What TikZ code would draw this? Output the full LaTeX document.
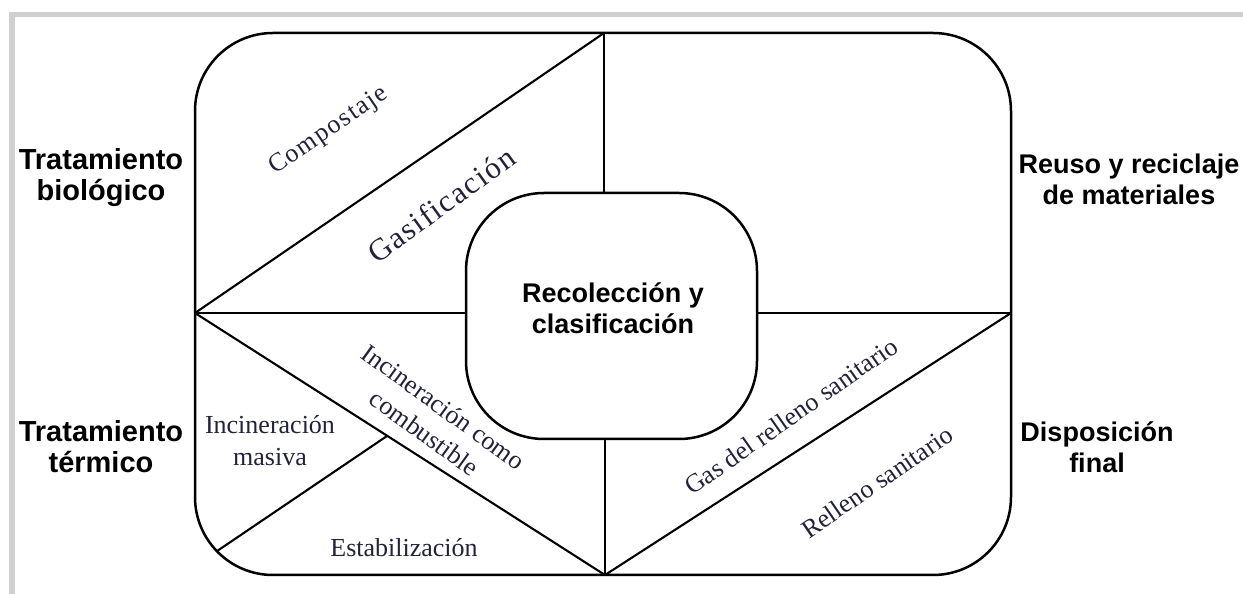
\documentclass[tikz,border=0pt]{standalone}
\usepackage{fontspec}
\setmainfont{Liberation Serif}
\newfontfamily\lsans{Liberation Sans}
\usetikzlibrary{calc}
\begin{document}
\begin{tikzpicture}[x=1pt,y=1pt,
  edge/.style={line width=2.5pt,black},
  thin edge/.style={line width=2.1pt,black},
  sanslabel/.style={font=\lsans\bfseries\fontsize{27}{31}\selectfont,align=center,text=black,inner sep=0pt},
  seriflabel/.style={font=\fontsize{26}{32}\selectfont,align=center,text=serifcol,inner sep=0pt}]
\definecolor{serifcol}{HTML}{22223A}
\definecolor{framecol}{HTML}{D0D0D0}
\useasboundingbox (0,0) rectangle (1243,594);
% gray frame
\fill[framecol] (9,577) rectangle (1243,582);
\fill[framecol] (9,0) rectangle (15,582);
% coordinates
\coordinate (L) at (195,281);
\coordinate (R) at (1011,281);
\coordinate (T) at (604,561);
\coordinate (B) at (605,19);
\coordinate (IT) at (604,401);
\coordinate (IB) at (605,155);
\coordinate (IL) at (466,281);
\coordinate (IR) at (757,281);
\coordinate (S1) at (387,158);
\coordinate (S2) at ($(273,97)+(224:78)$);
% outer and inner boxes
\draw[edge,rounded corners=78] (195,19) rectangle (1011,561);
\draw[edge,rounded corners=78] (466,155) rectangle (757,401);
% dividers
\draw[edge,line width=2.9pt] (T) -- (IT);
\draw[edge,line width=2.9pt] (IB) -- (B);
\draw[edge,line width=2.9pt] (L) -- (IL);
\draw[edge,line width=2.9pt] (IR) -- (R);
\draw[thin edge] (L) -- (T);
\draw[thin edge] (L) -- (B);
\draw[thin edge] (B) -- (R);
\draw[thin edge] (S1) -- (S2);
% side labels
\node[sanslabel,font=\lsans\bfseries\fontsize{29}{31}\selectfont] (tb) at (101,416) {Tratamiento\\biológico};
\node[sanslabel,font=\lsans\bfseries\fontsize{29}{31}\selectfont] (tt) at (101,147) {Tratamiento\\térmico};
\node[sanslabel] (rr) at (1129,415) {Reuso y reciclaje\\de materiales};
\node[sanslabel] (df) at (1097,147) {Disposición\\final};
\node[sanslabel] (rc) at (613,286) {Recolección y\\clasificación};
% inner labels
\node[seriflabel,font=\addfontfeature{LetterSpace=6}\fontsize{26}{30}\selectfont,rotate=34.5] (comp) at (329,463) {Compostaje};
\node[seriflabel,font=\addfontfeature{LetterSpace=5}\fontsize{31}{34}\selectfont,rotate=36] (gas) at (441,389) {Gasificación};
\node[seriflabel,rotate=-36] (icc) at (434,174) {Incineración como\\combustible};
\node[seriflabel] (im) at (270,153) {Incineración\\masiva};
\node[seriflabel] (est) at (404,46) {Estabilización};
\node[seriflabel,rotate=35] (grs) at (791,178) {Gas del relleno sanitario};
\node[seriflabel,rotate=34.5] (rs) at (877,112) {Relleno sanitario};
\end{tikzpicture}
\end{document}
